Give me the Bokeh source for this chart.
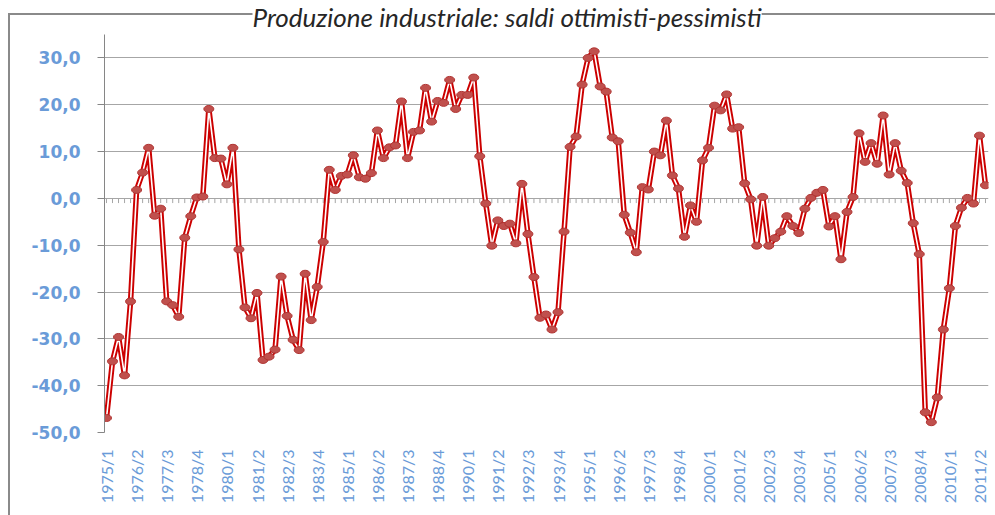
import math
from bokeh.plotting import figure
from bokeh.models import Range1d, FixedTicker, CustomJSTickFormatter, InlineStyleSheet
from bokeh.embed import file_html
from bokeh.resources import INLINE

# ---------------- data ----------------
titolo = "Produzione industriale: saldi ottimisti-pessimisti"
anno_iniziale = 1975
passo_etichette = 5
y_ticks = [-50, -40, -30, -20, -10, 0, 10, 20, 30]

saldi_1975_1983 = [-46.9, -34.8, -29.6, -37.8, -22.0, 1.8, 5.5, 10.8, -3.7, -2.2,
                   -22.0, -22.8, -25.3, -8.4, -3.8, 0.2, 0.4, 19.1, 8.6, 8.5,
                   3.0, 10.8, -10.9, -23.3, -25.6, -20.2, -34.5, -33.8, -32.3, -16.7,
                   -25.1, -30.2, -32.4, -16.1, -26.0, -18.9]
saldi_1984_1992 = [-9.3, 6.1, 1.8, 4.8, 5.1, 9.2, 4.5, 4.2, 5.4, 14.5,
                   8.6, 10.9, 11.3, 20.7, 8.6, 14.2, 14.5, 23.6, 16.4, 20.8,
                   20.4, 25.3, 19.1, 22.1, 22.1, 25.8, 9.0, -1.1, -10.1, -4.7,
                   -5.9, -5.4, -9.6, 3.1, -7.6, -16.8]
saldi_1993_2001 = [-25.5, -24.8, -28.0, -24.3, -7.1, 11.0, 13.2, 24.3, 30.0, 31.4,
                   23.9, 22.8, 13.0, 12.2, -3.5, -7.3, -11.5, 2.4, 1.9, 10.0,
                   9.2, 16.6, 4.9, 2.1, -8.2, -1.5, -5.0, 8.1, 10.8, 19.8,
                   18.8, 22.2, 14.9, 15.2, 3.2, -0.2]
saldi_2002_2011 = [-10.1, 0.3, -10.1, -8.5, -7.1, -3.8, -5.9, -7.4, -2.2, 0.1,
                   1.2, 1.8, -6.0, -3.8, -13.0, -2.9, 0.3, 13.9, 7.8, 11.8,
                   7.4, 17.7, 5.1, 11.8, 5.9, 3.3, -5.3, -11.9, -45.7, -47.8,
                   -42.5, -28.0, -19.2, -5.9, -2.0, 0.1, -1.1, 13.4, 2.8]

saldi = saldi_1975_1983 + saldi_1984_1992 + saldi_1993_2001 + saldi_2002_2011
trimestri = [f"{anno_iniziale + i // 4}/{i % 4 + 1}" for i in range(len(saldi))]
x = list(range(len(saldi)))

# ---------------- styles ----------------
blu = "#6a9bd8"
grigio = "#a6a6a6"

p = figure(width=994, height=514, output_backend="svg", toolbar_location=None,
           x_range=Range1d(-0.33, len(saldi) - 0.5), y_range=Range1d(-50, 35.0),
           min_border_left=104, min_border_right=6, min_border_top=32, min_border_bottom=82,
           background_fill_color="white", border_fill_color=None)
p.outline_line_color = None

# title
p.title.text = titolo
p.title.align = "left"
p.title.offset = 148
p.title.vertical_align = "top"
p.title.text_font = "Lato"
p.title.text_font_style = "italic"
p.title.text_font_size = "26px"
p.title.text_color = "#262626"
p.title.standoff = 0
p.title.background_fill_color = "white"

# chart border drawn behind the (transparent) canvas border area
p.stylesheets = [InlineStyleSheet(css="""
:host { position: relative; z-index: 0; background: transparent; }
:host::after { content: ""; position: absolute; left: 8px; top: 13px; right: -20px; bottom: -20px;
  border-left: 2px solid #8a8a8a; border-top: 2px solid #8a8a8a; pointer-events: none; z-index: -1; }
""")]

# x axis (labels only)
tick_idx = x[::passo_etichette]
p.xaxis.ticker = FixedTicker(ticks=tick_idx)
p.xaxis.major_label_overrides = {i: trimestri[i] for i in tick_idx}
p.xaxis.major_label_orientation = math.pi / 2
p.xaxis.axis_line_color = None
p.xaxis.major_tick_line_color = None
p.xaxis.minor_tick_line_color = None
p.xaxis.major_tick_out = 0
p.xaxis.major_label_standoff = 17
p.xaxis.major_label_text_font = "Lato"
p.xaxis.major_label_text_font_size = "16px"
p.xaxis.major_label_text_color = blu
p.xgrid.visible = False

# y axis
p.yaxis.ticker = FixedTicker(ticks=y_ticks)
p.yaxis.formatter = CustomJSTickFormatter(code="return tick.toFixed(1).replace('.', ',');")
p.yaxis.axis_line_color = "#868686"
p.yaxis.major_tick_line_color = "#868686"
p.yaxis.major_tick_out = 7
p.yaxis.major_tick_in = 0
p.yaxis.minor_tick_line_color = None
p.yaxis.major_label_standoff = 17
p.yaxis.major_label_text_font = "DejaVu Sans"
p.yaxis.major_label_text_font_style = "bold"
p.yaxis.major_label_text_font_size = "17px"
p.yaxis.major_label_text_color = blu
p.ygrid.grid_line_color = grigio

# category axis ticks along zero line
p.segment(x0=x, y0=[0] * len(x), x1=x, y1=[-1.0] * len(x), line_color=grigio, line_width=1)

# series: double red line with markers
p.line(x, saldi, line_width=5.5, line_color="#cc0000", line_join="round")
p.line(x, saldi, line_width=1.6, line_color="white", line_join="round")
p.ellipse(x, saldi, width=10, height=7, width_units="screen", height_units="screen",
          fill_color="#c0504d", line_color="#b03533", line_width=1)

open("out.html", "w").write(file_html(p, INLINE))
